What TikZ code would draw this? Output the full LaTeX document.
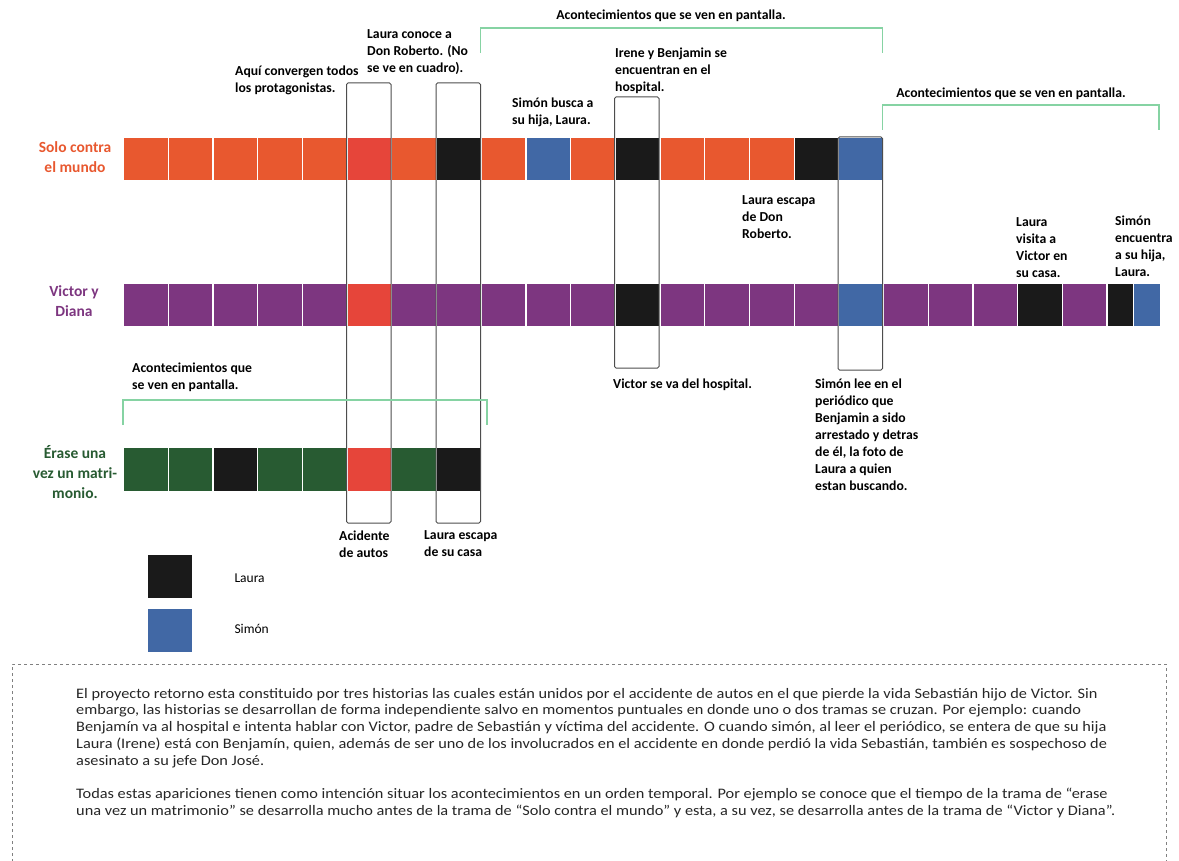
\documentclass[tikz,border=0pt]{standalone}
\usepackage{fontspec}
\setmainfont{Carlito}
\newfontfamily\bodyfont[FakeStretch=1.125]{Carlito}
\usepackage{xcolor}
\usepackage{tikz}
\definecolor{solocolor}{HTML}{E8582F}
\definecolor{accidentcolor}{HTML}{E6453A}
\definecolor{victorcolor}{HTML}{7D3680}
\definecolor{erasecolor}{HTML}{285B32}
\definecolor{lauracolor}{HTML}{1A1A1A}
\definecolor{simoncolor}{HTML}{4168A5}
\definecolor{screencolor}{HTML}{86D3A3}
\definecolor{framecolor}{HTML}{4D4D4D}

\begin{document}
\begin{tikzpicture}[
    x=1pt, y=-1pt,
    cell/.style={rectangle, draw=white, line width=1.2pt, inner sep=0pt,
                 anchor=north west,
                 minimum width=44.7pt,
                 minimum height=43.5pt},
    frame/.style={draw=framecolor, line width=1pt, rounded corners=1.5pt},
    screen/.style={draw=screencolor, line width=1.3pt},
    note/.style={anchor=north west, align=left, inner sep=0pt, yshift=-2.5pt,
                 font=\bfseries\fontsize{13.7}{17}\selectfont},
    story/.style={align=center, inner sep=0pt,
                  font=\bfseries\fontsize{15.5}{20}\selectfont}
]
\useasboundingbox (0,0) rectangle (1179,861);
\clip (0,0) rectangle (1179,861);
% Solo contra el mundo
\foreach \c [count=\i from 0] in {solocolor,solocolor,solocolor,solocolor,solocolor,accidentcolor,solocolor,lauracolor,solocolor,simoncolor,solocolor,lauracolor,solocolor,solocolor,solocolor,lauracolor,simoncolor}
    \node[cell, fill=\c] (solo\i) at (123+44.7*\i, 137) {};
% Victor y Diana
\foreach \c [count=\i from 0] in {victorcolor,victorcolor,victorcolor,victorcolor,victorcolor,accidentcolor,victorcolor,victorcolor,victorcolor,victorcolor,victorcolor,lauracolor,victorcolor,victorcolor,victorcolor,victorcolor,simoncolor,victorcolor,victorcolor,victorcolor,lauracolor,victorcolor}
    \node[cell, fill=\c] (victor\i) at (123+44.7*\i, 283) {};
\node[cell, fill=lauracolor, minimum width=26.7pt] (victor22) at (1106.4, 283) {};
\node[cell, fill=simoncolor, minimum width=26.7pt] (victor23) at (1133.1, 283) {};
% Erase una vez un matrimonio
\foreach \c [count=\i from 0] in {erasecolor,erasecolor,lauracolor,erasecolor,erasecolor,accidentcolor,erasecolor,lauracolor}
    \node[cell, fill=\c] (erase\i) at (123+44.7*\i, 447) {};

% crossing points
\draw[frame] (346.5,83) rectangle (391,523);
\draw[frame] (436,83) rectangle (480.5,523);
\draw[frame] (614.5,97) rectangle (659,368);
\draw[frame] (838,137) rectangle (882.5,370);

% on screen
\draw[screen] (480.5,53) |- (882.5,28) -- (882.5,53);
\draw[screen] (882.5,130) |- (1159,105) -- (1159,130);
\draw[screen] (123,425) |- (487,400) -- (487,425);
\node[note, anchor=north] (screen1) at (671,7) {Acontecimientos que se ven en pantalla.};
\node[note, anchor=north] (screen2) at (1011,85) {Acontecimientos que se ven en pantalla.};
\node[note] (screen3) at (132,360) {Acontecimientos que\\se ven en pantalla.};

% stories
\node[story, text=solocolor] (solotitle) at (75,157) {Solo contra\\el mundo};
\node[story, text=victorcolor] (victortitle) at (74,301) {Victor y\\Diana};
\node[story, text=erasecolor] (erasetitle) at (75,472) {Érase una\\vez un matri-\\monio.};

% events
\node[note] (converge) at (235,63) {Aquí convergen todos\\los protagonistas.};
\node[note] (conoce) at (367,27) {Laura conoce a\\Don Roberto. (No\\se ve en cuadro).};
\node[note] (hospital) at (615,45) {Irene y Benjamin se\\encuentran en el\\hospital.};
\node[note] (busca) at (512,95) {Simón busca a\\su hija, Laura.};
\node[note] (escapa) at (742,193) {Laura escapa\\de Don\\Roberto.};
\node[note] (visita) at (1016,215) {Laura\\visita a\\Victor en\\su casa.};
\node[note] (encuentra) at (1115,213) {Simón\\encuentra\\a su hija,\\Laura.};
\node[note] (seva) at (613,376) {Victor se va del hospital.};
\node[note] (periodico) at (815,376) {Simón lee en el\\periódico que\\Benjamin a sido\\arrestado y detras\\de él, la foto de\\Laura a quien\\estan buscando.};
\node[note] (accidente) at (339,528) {Acidente\\de autos};
\node[note] (escapacasa) at (424,528) {Laura escapa\\de su casa};

% legend
\node[cell, draw=none, fill=lauracolor, minimum width=44pt] (keylaura) at (147,554) {};
\node[cell, draw=none, fill=simoncolor, minimum width=44pt] (keysimon) at (147,608) {};
\node[anchor=west, font=\fontsize{13.5}{15}\selectfont] (keylauratext) at (231,578) {Laura};
\node[anchor=west, font=\fontsize{13.5}{15}\selectfont] (keysimontext) at (231,629) {Simón};

% summary
\draw[dashed, draw=gray, line width=0.8pt] (12,880) |- (1166,664) -- (1166,880);
\node[anchor=north west, align=left, inner sep=0pt, text=black!85,
      font=\bodyfont\fontsize{14.5}{16.7}\selectfont] (summary) at (76,688)
{El proyecto retorno esta constituido por tres historias las cuales están unidos por el accidente de autos en el que pierde la vida Sebastián hijo de Victor. Sin\\
embargo, las historias se desarrollan de forma independiente salvo en momentos puntuales en donde uno o dos tramas se cruzan. Por ejemplo: cuando\\
Benjamín va al hospital e intenta hablar con Victor, padre de Sebastián y víctima del accidente. O cuando simón, al leer el periódico, se entera de que su hija\\
Laura (Irene) está con Benjamín, quien, además de ser uno de los involucrados en el accidente en donde perdió la vida Sebastián, también es sospechoso de\\
asesinato a su jefe Don José.\\[16.7pt]
Todas estas apariciones tienen como intención situar los acontecimientos en un orden temporal. Por ejemplo se conoce que el tiempo de la trama de “erase\\
una vez un matrimonio” se desarrolla mucho antes de la trama de “Solo contra el mundo” y esta, a su vez, se desarrolla antes de la trama de “Victor y Diana”.};
\end{tikzpicture}
\end{document}
